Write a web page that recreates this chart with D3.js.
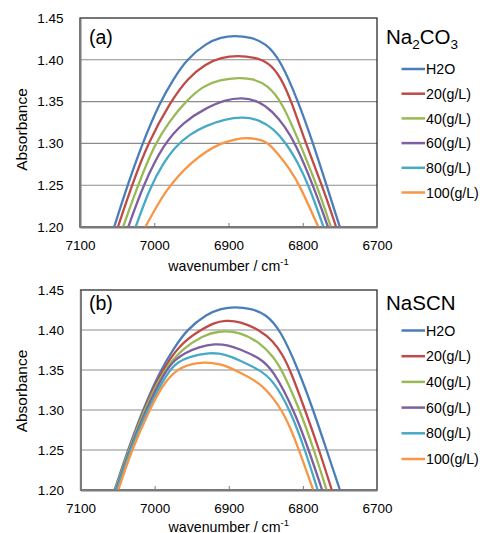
<!DOCTYPE html>
<html>
<head>
<meta charset="utf-8">
<script src="https://cdn.jsdelivr.net/npm/d3@7"></script>
<style>
  body { margin: 0; background: #fff; }
  svg { display: block; font-family: "Liberation Sans", Arial, sans-serif; }
</style>
</head>
<body>
<svg id="chart" width="480" height="533"></svg>
<script>
const wavenumberTicks = [7100, 7000, 6900, 6800, 6700];
const absorbanceTicks = [1.20, 1.25, 1.30, 1.35, 1.40, 1.45];
const seriesNames = ["H2O", "20(g/L)", "40(g/L)", "60(g/L)", "80(g/L)", "100(g/L)"];
const seriesColors = ["#4a7ebb", "#be4b48", "#98b954", "#7d60a0", "#46aac5", "#f79646"];

// [wavenumber, absorbance]
const h2o = [[7054,1.200],[7036,1.250],[7016,1.300],[6992,1.350],[6974,1.377],[6957,1.400],[6930,1.420],[6910,1.427],[6892,1.429],[6870,1.427],[6850,1.420],[6830,1.400],[6806,1.350],[6786,1.300],[6768,1.250],[6750,1.200]];

const na2co3_20 = [[7049,1.200],[7030,1.250],[7009,1.300],[6978,1.350],[6955,1.378],[6931,1.395],[6910,1.403],[6887,1.405],[6865,1.403],[6846,1.397],[6830,1.380],[6815,1.350],[6796,1.300],[6774,1.250],[6755,1.200]];
const na2co3_40 = [[7042,1.200],[7022,1.250],[6999,1.300],[6979,1.327],[6958,1.350],[6934,1.369],[6912,1.376],[6885,1.379],[6866,1.377],[6848,1.370],[6828,1.350],[6804,1.300],[6781,1.250],[6762,1.200]];
const na2co3_60 = [[7035,1.200],[7015,1.250],[6987,1.300],[6960,1.326],[6931,1.342],[6905,1.352],[6882,1.355],[6860,1.351],[6840,1.338],[6824,1.320],[6810,1.300],[6786,1.250],[6766,1.200]];
const na2co3_80 = [[7025,1.200],[7006,1.247],[6988,1.276],[6972,1.296],[6952,1.311],[6931,1.321],[6905,1.329],[6880,1.332],[6858,1.328],[6840,1.318],[6822,1.300],[6806,1.276],[6792,1.250],[6772,1.200]];
const na2co3_100 = [[7012,1.200],[6996,1.226],[6984,1.243],[6968,1.261],[6950,1.277],[6931,1.290],[6911,1.300],[6891,1.305],[6873,1.307],[6855,1.304],[6846,1.300],[6833,1.287],[6818,1.270],[6804,1.250],[6779,1.200]];

const nascn_20 = [[7053,1.200],[7035,1.250],[7015,1.300],[6990,1.350],[6965,1.383],[6938,1.400],[6920,1.409],[6905,1.412],[6885,1.411],[6858,1.400],[6840,1.386],[6828,1.370],[6817,1.350],[6797,1.300],[6778,1.250],[6761,1.200]];
const nascn_40 = [[7053,1.200],[7035,1.250],[7014,1.300],[6988,1.350],[6962,1.377],[6935,1.393],[6914,1.399],[6885,1.398],[6858,1.384],[6840,1.367],[6828,1.350],[6804,1.300],[6785,1.250],[6768,1.200]];
const nascn_60 = [[7052,1.200],[7034,1.250],[7012,1.300],[6985,1.350],[6972,1.363],[6960,1.371],[6940,1.379],[6919,1.383],[6900,1.381],[6885,1.376],[6858,1.365],[6840,1.350],[6812,1.300],[6792,1.250],[6774,1.200]];
const nascn_80 = [[7051,1.200],[7033,1.250],[7010,1.300],[6981,1.350],[6968,1.360],[6955,1.366],[6926,1.372],[6905,1.370],[6885,1.362],[6858,1.350],[6840,1.337],[6817,1.300],[6797,1.250],[6780,1.200]];
const nascn_100 = [[7049,1.200],[7031,1.250],[7007,1.300],[6990,1.330],[6972,1.350],[6950,1.358],[6932,1.360],[6910,1.357],[6901,1.354],[6885,1.347],[6858,1.334],[6840,1.315],[6828,1.299],[6817,1.278],[6806,1.252],[6786,1.200]];

const panels = [
  {
    id: "a", label: "(a)",
    title: [["Na", 0], ["2", 1], ["CO", 0], ["3", 1]],
    curves: [h2o, na2co3_20, na2co3_40, na2co3_60, na2co3_80, na2co3_100],
    left: 80, right: 377, top: 18, bottom: 227,
    titleY: 43.5, legendY: 69, legendStep: 24.7, yTitleY: 129.5, xTitleY: 271
  },
  {
    id: "b", label: "(b)",
    title: [["NaSCN", 0]],
    curves: [h2o, nascn_20, nascn_40, nascn_60, nascn_80, nascn_100],
    left: 80.5, right: 377, top: 290, bottom: 490,
    titleY: 309.5, legendY: 330.5, legendStep: 25.7, yTitleY: 391, xTitleY: 531.5
  }
];

const svg = d3.select("#chart");

panels.forEach(p => {
  const x = d3.scaleLinear().domain([7100, 6700]).range([p.left, p.right]);
  const y = d3.scaleLinear().domain([1.20, 1.45]).range([p.bottom, p.top]);
  const g = svg.append("g").attr("id", "panel-" + p.id);

  // horizontal gridlines
  g.append("g")
    .selectAll("line")
    .data(absorbanceTicks.slice(1, -1))
    .join("line")
    .attr("x1", p.left).attr("x2", p.right)
    .attr("y1", d => y(d)).attr("y2", d => y(d))
    .attr("stroke", "#8c8c8c")
    .attr("stroke-width", 1.1);

  // plot frame (top / right)
  g.append("rect")
    .attr("x", p.left).attr("y", p.top)
    .attr("width", p.right - p.left).attr("height", p.bottom - p.top)
    .attr("fill", "none")
    .attr("stroke", "#1a1a1a")
    .attr("stroke-width", 1.2);

  g.append("clipPath").attr("id", "clip-" + p.id)
    .append("rect")
    .attr("x", p.left).attr("y", p.top - 2)
    .attr("width", p.right - p.left).attr("height", p.bottom - p.top + 2);

  // smooth spectra through the read-off points
  const line = d3.line()
    .x(d => x(d[0]))
    .y(d => y(d[1]))
    .curve(d3.curveBasis);

  g.append("g")
    .attr("clip-path", `url(#clip-${p.id})`)
    .selectAll("path")
    .data(p.curves)
    .join("path")
    .attr("d", line)
    .attr("fill", "none")
    .attr("stroke", (d, i) => seriesColors[i])
    .attr("stroke-width", 2.3)
    .attr("stroke-linejoin", "round");

  // axes
  const xAxis = g.append("g")
    .attr("transform", `translate(0,${p.bottom})`)
    .call(d3.axisBottom(x)
      .tickValues(wavenumberTicks)
      .tickFormat(d3.format("d"))
      .tickSizeInner(-4)
      .tickSizeOuter(0)
      .tickPadding(13));
  xAxis.select(".domain").attr("stroke", "#7a7a7a").attr("stroke-width", 2);
  xAxis.selectAll(".tick line").attr("stroke", "#7a7a7a").attr("stroke-width", 1);
  xAxis.selectAll("text")
    .attr("font-family", "Liberation Sans, Arial, sans-serif")
    .attr("font-size", 13.5).attr("fill", "#000");

  const yAxis = g.append("g")
    .attr("transform", `translate(${p.left},0)`)
    .call(d3.axisLeft(y)
      .tickValues(absorbanceTicks)
      .tickFormat(d3.format(".2f"))
      .tickSize(0)
      .tickPadding(16.5));
  yAxis.select(".domain").attr("stroke", "#7a7a7a").attr("stroke-width", 2);
  yAxis.selectAll("text")
    .attr("font-family", "Liberation Sans, Arial, sans-serif")
    .attr("font-size", 13.5).attr("fill", "#000");

  // axis titles
  g.append("text")
    .attr("transform", `translate(27,${p.yTitleY}) rotate(-90)`)
    .attr("text-anchor", "middle")
    .attr("font-size", 15.5)
    .text("Absorbance");

  const xt = g.append("text")
    .attr("x", (p.left + p.right) / 2)
    .attr("y", p.xTitleY)
    .attr("text-anchor", "middle")
    .attr("font-size", 14.2);
  xt.append("tspan").text("wavenumber / cm");
  xt.append("tspan").attr("font-size", 9.5).attr("dy", -6).text("-1");

  // panel label
  g.append("text")
    .attr("x", 89).attr("y", p.titleY)
    .attr("font-size", 19.5)
    .text(p.label);

  // legend title with subscripts
  const tt = g.append("text")
    .attr("x", 386).attr("y", p.titleY)
    .attr("font-size", 20.5);
  let shifted = 0;
  p.title.forEach(([s, sub]) => {
    const dy = sub ? 5 : 0;
    tt.append("tspan")
      .attr("dy", dy - shifted)
      .attr("font-size", sub ? 13.5 : 20.5)
      .text(s);
    shifted = dy;
  });

  // legend
  const lg = g.append("g")
    .selectAll("g")
    .data(seriesNames)
    .join("g")
    .attr("transform", (d, i) => `translate(0,${p.legendY + i * p.legendStep})`);
  lg.append("line")
    .attr("x1", 401.5).attr("x2", 425)
    .attr("stroke", (d, i) => seriesColors[i])
    .attr("stroke-width", 2.5);
  lg.append("text")
    .attr("x", 426).attr("dy", "0.36em")
    .attr("font-size", 14.2)
    .text(d => d);
});
</script>
</body>
</html>
